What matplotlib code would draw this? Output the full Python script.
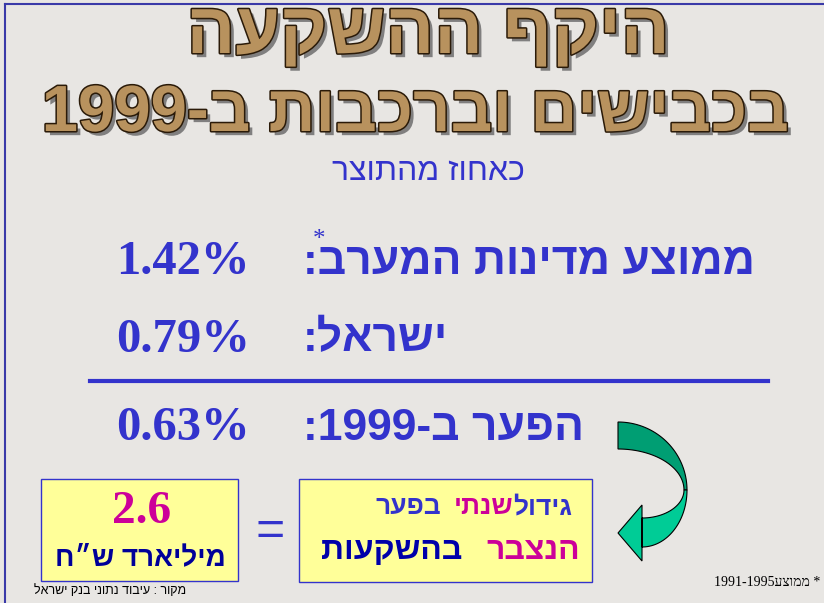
import re
import numpy as np
import matplotlib
matplotlib.use("Agg")
import matplotlib.pyplot as plt
import matplotlib.patheffects as pe
from matplotlib.patches import Rectangle, Polygon

# slide content
title_lines = ["היקף ההשקעה", "בכבישים וברכבות ב-1999"]
subtitle = "כאחוז מהתוצר"
row_labels = ["ממוצע מדינות המערב:", "ישראל:", "הפער ב-1999:"]
row_values = [1.42, 0.79, 0.63]
gap_total = 2.6
gap_unit = "מיליארד ש״ח"
box_line1 = [("גידול", "#3333cc"), ("שנתי", "#cc0099"), ("בפער", "#3333cc")]
box_line2 = [("הנצבר", "#cc0099"), ("בהשקעות", "#0000aa")]
source = "מקור : עיבוד נתוני בנק ישראל"
footnote_word = "ממוצע"
footnote_years = "1991-1995"

HEB = ["Liberation Sans", "DejaVu Sans"]
SERIF = ["Liberation Serif", "DejaVu Serif"]
BLUE = "#3333cc"


def vis(s):
    # matplotlib has no bidi: flip the string, then put number runs back
    r = s[::-1]
    return re.sub(r"[0-9][0-9.%\-]*[0-9%]|[0-9]", lambda m: m.group(0)[::-1], r)


fig = plt.figure(figsize=(8.24, 6.03), dpi=100)
fig.patch.set_facecolor("#e8e6e3")
ax = fig.add_axes([0, 0, 1, 1])
ax.set_xlim(0, 824)
ax.set_ylim(603, 0)
ax.axis("off")

# frame lines
ax.plot([5, 5], [4, 603], color="#3a3aa8", lw=1.5)
ax.plot([5, 824], [4, 4], color="#3a3aa8", lw=1.5)

# title
fx = [pe.withSimplePatchShadow(offset=(3, -3), shadow_rgbFace="#666666", alpha=0.8),
      pe.Stroke(linewidth=2.2, foreground="#2a1a08"), pe.Normal()]
ax.text(428, 34, vis(title_lines[0]), ha="center", va="center", fontsize=52,
        fontweight="bold", family=HEB, color="#b8925e", path_effects=fx)
ax.text(415, 114, vis(title_lines[1]), ha="center", va="center", fontsize=47,
        fontweight="bold", family=HEB, color="#b8925e", path_effects=fx)
ax.text(428, 172, vis(subtitle), ha="center", va="center", fontsize=23,
        family=HEB, color=BLUE)

# rows
row_y = [262, 340, 428]
for lab, val, y in zip(row_labels, row_values, row_y):
    ax.text(250, y, f"{val:.2f}%", ha="right", va="center", fontsize=35,
            fontweight="bold", family=SERIF, color=BLUE)
    ax.text(303, y, vis(lab), ha="left", va="center", fontsize=32,
            fontweight="bold", family=HEB, color=BLUE)
ax.text(319, 240, "*", ha="center", va="center", fontsize=18, family=SERIF, color=BLUE)
ax.plot([90, 768], [381, 381], color=BLUE, lw=3)

# boxes
ax.add_patch(Rectangle((41, 479), 197, 102, facecolor="#ffff99", edgecolor=BLUE, lw=1))
ax.add_patch(Rectangle((299, 479), 293, 103, facecolor="#ffff99", edgecolor=BLUE, lw=1))
ax.text(142, 512, f"{gap_total}", ha="center", va="center", fontsize=34,
        fontweight="bold", family=SERIF, color="#cc0099")
ax.text(140, 558, vis(gap_unit), ha="center", va="center", fontsize=20,
        fontweight="bold", family=HEB, color="#000099")
ax.text(270, 532, "=", ha="center", va="center", fontsize=36, family=HEB, color=BLUE)

renderer = fig.canvas.get_renderer()
inv = ax.transData.inverted()


def rtl_words(words, x_right, y, size, gaps):
    x = x_right
    for (w, c), g in zip(words, gaps):
        t = ax.text(x, y, vis(w), ha="right", va="center", fontsize=size,
                    fontweight="bold", family=HEB, color=c)
        bb = t.get_window_extent(renderer)
        x = inv.transform((bb.x0, bb.y0))[0] - g


rtl_words(box_line1, 572, 507, 19, [0, 12, 0])
rtl_words(box_line2, 580, 551, 23, [24, 0])

# curved arrow
def arc(cx, cy, rx, ry, a0, a1, n=40):
    t = np.radians(np.linspace(a0, a1, n))
    return np.column_stack([cx + rx * np.cos(t), cy - ry * np.sin(t)])


top_outer = arc(618, 490, 69, 68, 90, 0)
top_inner = arc(618, 490, 66, 41, 0, 90)
ax.add_patch(Polygon(np.vstack([top_outer, top_inner]), closed=True,
                     facecolor="#009e73", edgecolor="black", lw=0.8))
low_outer = arc(642, 490, 45, 57, 0, -90)
low_inner = arc(642, 490, 42, 28, -90, 0)
ax.add_patch(Polygon(np.vstack([[[687, 490]], low_outer, [[642, 505]], [[618, 533]],
                                [[642, 561]], low_inner[:-1], [[684, 490]]]),
                     closed=True, facecolor="#00cc96", edgecolor="black", lw=0.8))

# footers
ax.text(186, 591, vis(source), ha="right", va="center", fontsize=9,
        family=HEB, color="black")
ax.text(820, 582, footnote_years + vis(footnote_word) + " *", ha="right", va="center",
        fontsize=10, family=SERIF, color="black")

fig.savefig("out.png", dpi=100, facecolor=fig.get_facecolor())
